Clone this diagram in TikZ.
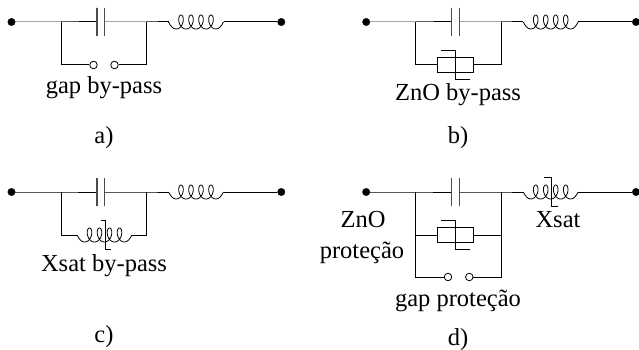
\documentclass[tikz,border=0pt]{standalone}
\usepackage{fontspec}
\setmainfont{Liberation Serif}
\tikzset{
  wire/.style={line width=1pt,line join=miter},
  termdot/.style={circle,fill=black,draw=black,line width=0.3pt,inner sep=0pt,minimum size=7.5pt},
  plate/.style={rectangle,draw=black!70,line width=1.1pt,inner sep=0pt,minimum width=0pt,minimum height=28pt},
  gapdot/.style={circle,draw=black,fill=white,line width=0.8pt,inner sep=0pt,minimum size=7.5pt},
  znobox/.style={rectangle,draw=black,line width=0.9pt,inner sep=0pt,minimum width=36pt,minimum height=15pt},
  lbl/.style={font=\fontsize{24.5pt}{26pt}\selectfont,anchor=base,inner sep=0pt},
  coil/.pic={
    \coordinate (-l) at (-27.5,0);
    \coordinate (-r) at (27.5,0);
    \draw[line width=0.8pt] (-27.5,0) .. controls (-25.5,3.5) and (-23.5,7) .. (-20,7) -- plot[domain=-3.1416:21.991,samples=200,smooth]
      ({10*(\x/6.2832)-15-4.5*sin(\x r)},{-7*cos(\x r)}) .. controls (23.5,7) and (25.5,3.5) .. (27.5,0);
  }
}
% #1 name, #2 x offset, #3 wire y
\newcommand{\seriesline}[3]{
  \node[termdot] (#1L) at (#2+11.5,#3) {};
  \node[termdot] (#1R) at (#2+281.3,#3) {};
  \node[plate] (#1P) at (#2+97,#3) {};
  \node[plate] (#1Q) at (#2+104.5,#3) {};
  \coordinate (#1A) at (#2+61,#3);
  \coordinate (#1B) at (#2+146.5,#3);
  \pic (#1C) at (#2+196,#3) {coil};
  \draw[wire] (#1L) -- (#1A) -- (#1P);
  \draw[wire] (#1Q) -- (#1B) -- (#1C-l);
  \draw[wire] (#1C-r) -- (#1R);
}
% #1 name of the varistor node: its crossing mark
\newcommand{\znomark}[1]{
  \draw[line width=0.9pt] ([shift={(-14.5,-14.5)}]#1.center) -- ([shift={(0,-14.5)}]#1.center)
    -- ([shift={(0,14.5)}]#1.center) -- ([shift={(14.5,14.5)}]#1.center);
}
% #1 centre coordinate of a coil mark, #2 left stub, #3 right stub
\newcommand{\coilmark}[3]{
  \draw[line width=0.9pt] ([shift={(-#2,-14.5)}]#1) -- ([shift={(0,-14.5)}]#1)
    -- ([shift={(0,14.5)}]#1) -- ([shift={(#3,14.5)}]#1);
}
\begin{document}
\begin{tikzpicture}[x=1pt,y=-1pt]
\useasboundingbox (0,0) rectangle (639,350);
% a)
\seriesline{a}{0}{22}
\node[gapdot] (ag1) at (93.5,65) {};
\node[gapdot] (ag2) at (114.5,65) {};
\draw[wire] (aA) |- (ag1);
\draw[wire] (aB) |- (ag2);
\node[lbl] (at1) at (104,94) {gap by-pass};
\node[lbl] (at2) at (104,143.5) {a)};
% b)
\seriesline{b}{354.7}{22}
\node[znobox] (bz) at (455,64.5) {};
\znomark{bz}
\draw[wire] (bA) |- (bz.west);
\draw[wire] (bB) |- (bz.east);
\node[lbl] (bt1) at (458,101) {ZnO by-pass};
\node[lbl] (bt2) at (458,143.5) {b)};
% c)
\seriesline{c}{0}{192}
\pic (cX) at (104.5,235) {coil};
\coordinate (cXm) at (105,235);
\coilmark{cXm}{4}{6}
\draw[wire] (cA) |- (cX-l);
\draw[wire] (cB) |- (cX-r);
\node[lbl] (ct1) at (104,271) {Xsat by-pass};
\node[lbl] (ct2) at (104,342) {c)};
% d)
\seriesline{d}{354.7}{192}
\node[znobox] (dz) at (455,235) {};
\znomark{dz}
\node[gapdot] (dg1) at (448,277) {};
\node[gapdot] (dg2) at (469.3,277) {};
\draw[wire] (dA) |- (dz.west);
\draw[wire] (dB) |- (dz.east);
\draw[wire] (dA) |- (dg1);
\draw[wire] (dB) |- (dg2);
\coordinate (dXm) at (551,192);
\coilmark{dXm}{7}{7}
\node[lbl] (dt1) at (363,227) {ZnO};
\node[lbl] (dt2) at (362,258) {proteção};
\node[lbl] (dt3) at (558,227) {Xsat};
\node[lbl] (dt4) at (458,306) {gap proteção};
\node[lbl] (dt5) at (458,345) {d)};
\end{tikzpicture}
\end{document}
